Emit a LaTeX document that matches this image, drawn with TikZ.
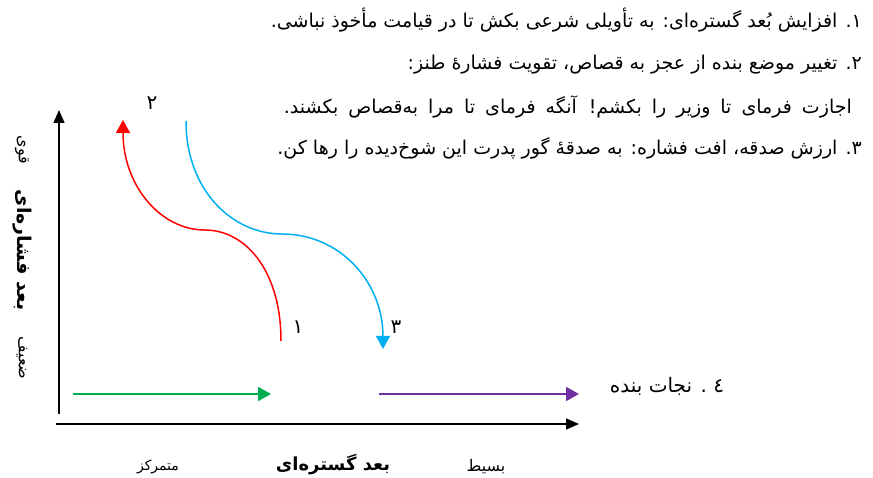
\documentclass[tikz,border=0pt]{standalone}
\usepackage{fontspec}
\usepackage{xcolor}
\setmainfont{DejaVu Sans}
\newfontfamily\farsi[Script=Arabic]{DejaVu Sans}
\TeXXeTstate=1
\usetikzlibrary{arrows.meta}

\definecolor{qermez}{RGB}{255,0,0}
\definecolor{abi}{RGB}{0,176,240}
\definecolor{sabz}{RGB}{0,176,80}
\definecolor{banafsh}{RGB}{112,48,160}

\tikzset{
    matn/.style={anchor=east, inner sep=0pt, font=\farsi\fontsize{19}{22}\selectfont},
    barchasb/.style={inner sep=0pt, font=\farsi\fontsize{19}{22}\selectfont},
    mehvar/.style={line width=1.4pt, -{Triangle[length=13pt,width=11pt]}},
    masir/.style={line width=1.5pt, -{Triangle[length=13pt,width=14pt]}}
}

\begin{document}
\begin{tikzpicture}[x=1pt,y=-1pt]
            \useasboundingbox (0,0) rectangle (873,478);

            % text lines
            \node[matn] (satr1) at (862,20) {\beginR ۱. افزایش بُعد گستره‌ای: به تأویلی شرعی بکش تا در قیامت مأخوذ نباشی.\endR};
            \node[matn] (satr2) at (862,65) {\beginR ۲. تغییر موضع بنده از عجز به قصاص، تقویت فشارهٔ طنز:\endR};
            \node[matn] (satr3) at (852,107) {\spaceskip=10pt\beginR اجازت فرمای تا وزیر را بکشم! آنگه فرمای تا مرا به‌قصاص بکشند.\endR};
            \node[matn] (satr4) at (862,148) {\beginR ۳. ارزش صدقه، افت فشاره: به صدقهٔ گور پدرت این شوخ‌دیده را رها کن.\endR};

            % axes
            \coordinate (yPayin) at (59,414);
            \coordinate (yBala) at (59,110);
            \coordinate (xChap) at (56,424);
            \coordinate (xRast) at (579,424);
            \draw[mehvar] (yPayin) -- (yBala);
            \draw[mehvar] (xChap) -- (xRast);

            \node[barchasb, rotate=-90, font=\farsi\fontsize{16}{18}\selectfont] (qavi) at (22,150) {\beginR قوی\endR};
            \node[barchasb, rotate=-90, font=\farsi\bfseries\fontsize{19}{22}\selectfont] (fashar) at (22,250) {\beginR بعد فشاره‌ای\endR};
            \node[barchasb, rotate=-90, font=\farsi\fontsize{16}{18}\selectfont] (zaif) at (22,358) {\beginR ضعیف\endR};

            \node[barchasb, font=\farsi\fontsize{14}{16}\selectfont] (motamarkez) at (158,467) {\beginR متمرکز\endR};
            \node[barchasb, font=\farsi\bfseries\fontsize{18}{20}\selectfont] (gostare) at (333,465) {\beginR بعد گستره‌ای\endR};
            \node[barchasb, font=\farsi\fontsize{16}{18}\selectfont] (basit) at (486,467) {\beginR بسیط\endR};

            % curves
            \coordinate (r1) at (281,341);
            \coordinate (rVasat) at (205,230);
            \coordinate (r2) at (123,120);
            \draw[masir, qermez] (r1) .. controls (281,270) and (245,230) .. (rVasat)
                .. controls (160,230) and (123,185) .. (r2);

            \coordinate (b1) at (186,121);
            \coordinate (bVasat) at (282,234);
            \coordinate (b2) at (383,349);
            \draw[masir, abi] (b1) .. controls (186,190) and (232,234) .. (bVasat)
                .. controls (340,234) and (383,282) .. (b2);

            \node[barchasb, font=\farsi\fontsize{20}{22}\selectfont] (adad2) at (152,103) {\beginR ۲\endR};
            \node[barchasb, font=\farsi\fontsize{20}{22}\selectfont] (adad1) at (298,327) {\beginR ۱\endR};
            \node[barchasb, font=\farsi\fontsize{20}{22}\selectfont] (adad3) at (396,327) {\beginR ۳\endR};

            % horizontal arrows
            \coordinate (g1) at (73,394);
            \coordinate (g2) at (271,394);
            \draw[masir, sabz, line width=2pt] (g1) -- (g2);
            \coordinate (p1) at (379,394);
            \coordinate (p2) at (579,394);
            \draw[masir, banafsh, line width=2pt] (p1) -- (p2);

            \node[barchasb, font=\farsi\fontsize{20}{22}\selectfont] (nejat) at (667,386) {\beginR ٤ . نجات بنده\endR};
\end{tikzpicture}
\end{document}
